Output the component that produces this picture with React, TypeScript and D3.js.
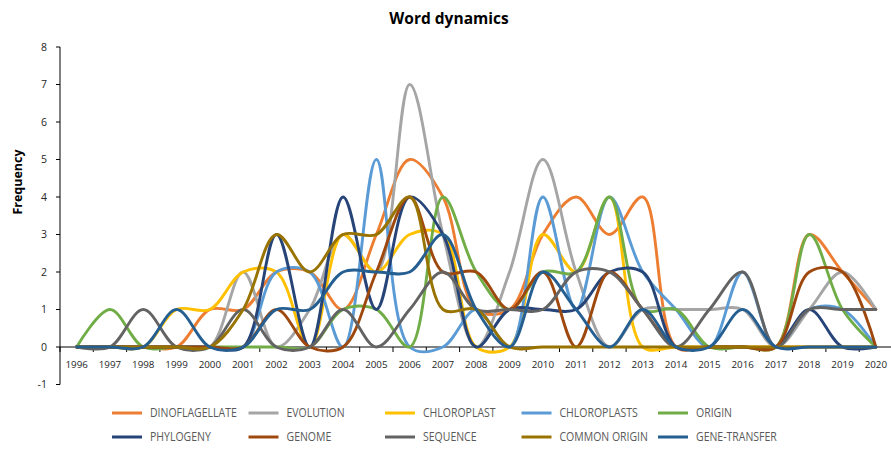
import React from "react";
import * as d3 from "d3";

// Publication years on the category axis
const years = [
  "1996", "1997", "1998", "1999", "2000", "2001", "2002", "2003", "2004",
  "2005", "2006", "2007", "2008", "2009", "2010", "2011", "2012", "2013",
  "2014", "2015", "2016", "2017", "2018", "2019", "2020",
];

// Yearly frequency of each keyword
const dinoflagellate = [0, 0, 0, 0, 1, 1, 2, 2, 1, 3, 5, 4, 1, 1, 3, 4, 3, 4, 0, 0, 0, 0, 3, 2, 1];
const evolution = [0, 0, 0, 0, 0, 2, 0, 1, 3, 2, 7, 3, 0, 2, 5, 2, 0, 1, 1, 1, 1, 0, 1, 2, 1];
const chloroplast = [0, 0, 0, 1, 1, 2, 2, 0, 3, 2, 3, 3, 0, 0, 3, 2, 4, 0, 0, 0, 0, 0, 0, 0, 0];
const chloroplasts = [0, 0, 0, 0, 0, 0, 2, 2, 0, 5, 0, 0, 1, 0, 4, 1, 4, 2, 1, 0, 2, 0, 1, 1, 0];
const origin = [0, 1, 0, 0, 0, 0, 0, 0, 1, 1, 0, 4, 2, 1, 2, 2, 4, 1, 1, 0, 0, 0, 3, 1, 0];
const phylogeny = [0, 0, 0, 0, 0, 0, 3, 0, 4, 1, 4, 3, 0, 1, 1, 1, 2, 2, 0, 0, 0, 0, 1, 0, 0];
const genome = [0, 0, 0, 0, 0, 0, 1, 0, 0, 2, 4, 2, 2, 1, 2, 0, 2, 1, 0, 0, 0, 0, 2, 2, 0];
const sequence = [0, 0, 1, 0, 0, 1, 0, 0, 1, 0, 1, 2, 1, 1, 1, 2, 2, 1, 0, 1, 2, 0, 1, 1, 1];
const commonOrigin = [0, 0, 0, 0, 0, 1, 3, 2, 3, 3, 4, 1, 1, 0, 0, 0, 0, 0, 0, 0, 0, 0, 0, 0, 0];
const geneTransfer = [0, 0, 0, 1, 0, 0, 1, 1, 2, 2, 2, 3, 1, 0, 2, 1, 0, 1, 0, 0, 1, 0, 0, 0, 0];

const seriesNames = [
  "DINOFLAGELLATE", "EVOLUTION", "CHLOROPLAST", "CHLOROPLASTS", "ORIGIN",
  "PHYLOGENY", "GENOME", "SEQUENCE", "COMMON ORIGIN", "GENE-TRANSFER",
];
const seriesValues = [
  dinoflagellate, evolution, chloroplast, chloroplasts, origin,
  phylogeny, genome, sequence, commonOrigin, geneTransfer,
];
const seriesColors = [
  "#ED7D31", "#A5A5A5", "#FFC000", "#5B9BD5", "#70AD47",
  "#264478", "#9E480E", "#636363", "#997300", "#255E91",
];

const yTicks = [-1, 0, 1, 2, 3, 4, 5, 6, 7, 8];

const W = 891;
const H = 449;
const FONT = "'Open Sans', 'Liberation Sans', sans-serif";

export default function App() {
  const x = d3.scaleBand<string>().domain(years).range([60, 892.5]).padding(0);
  const y = d3.scaleLinear().domain([-1, 8]).range([384.5, 47]);
  const cx = (i: number) => (x(years[i]) as number) + x.bandwidth() / 2;

  const line = d3
    .line<number>()
    .x((_, i) => cx(i))
    .y((d) => y(d))
    .curve(d3.curveCatmullRom.alpha(0.5));

  const x0 = x.range()[0];
  const boundaries = years.map((yr) => x(yr) as number).concat([x.range()[1]]);

  return (
    <svg
      width={W}
      height={H}
      style={{ position: "absolute", left: 0, top: 0, background: "#fff" }}
      xmlns="http://www.w3.org/2000/svg"
    >
      <rect width={W} height={H} fill="#fff" />
      <text
        x={449}
        y={24}
        textAnchor="middle"
        fontFamily={FONT}
        fontWeight={700}
        fontSize={15.5}
        fill="#000"
      >
        Word dynamics
      </text>

      <text
        transform={`translate(22,182) rotate(-90)`}
        textAnchor="middle"
        fontFamily={FONT}
        fontWeight={700}
        fontSize={12.5}
        fill="#000"
      >
        Frequency
      </text>

      {/* value axis */}
      <line x1={x0} x2={x0} y1={y(8)} y2={y(-1)} stroke="#000" strokeWidth={1} />
      {yTicks.map((t) => (
        <g key={t}>
          <line x1={x0 - 4} x2={x0} y1={y(t)} y2={y(t)} stroke="#000" strokeWidth={1} />
          <text
            x={47}
            y={y(t) + 3.8}
            textAnchor="end"
            fontFamily={FONT}
            fontSize={10.5}
            fill="#262626"
          >
            {t}
          </text>
        </g>
      ))}

      {/* category axis on the zero line */}
      <line x1={x0} x2={W} y1={y(0)} y2={y(0)} stroke="#000" strokeWidth={1} />
      {boundaries.map((b, i) => (
        <line key={i} x1={b} x2={b} y1={y(0)} y2={y(0) + 5} stroke="#000" strokeWidth={1} />
      ))}
      {years.map((yr, i) => (
        <text
          key={yr}
          x={cx(i)}
          y={368}
          textAnchor="middle"
          fontFamily={FONT}
          fontSize={9.8}
          fill="#262626"
        >
          {yr}
        </text>
      ))}

      {/* smoothed series */}
      {seriesValues.map((vals, si) => (
        <path
          key={seriesNames[si]}
          d={line(vals) || ""}
          fill="none"
          stroke={seriesColors[si]}
          strokeWidth={2.9}
          strokeLinejoin="round"
          strokeLinecap="round"
        />
      ))}

      {/* legend: two rows of five entries, labels set in a condensed face */}
      {seriesNames.map((name, i) => {
        const col = i % 5;
        const row = Math.floor(i / 5);
        const lx = 112 + col * 136.5;
        const ly = 413 + row * 24;
        return (
          <g key={name}>
            <line x1={lx} x2={lx + 30} y1={ly} y2={ly} stroke={seriesColors[i]} strokeWidth={3} />
            <text
              transform={`translate(${lx + 38},${ly + 4.3}) scale(0.84,1)`}
              fontFamily={FONT}
              fontSize={12.5}
              fill="#595959"
            >
              {name}
            </text>
          </g>
        );
      })}
    </svg>
  );
}
